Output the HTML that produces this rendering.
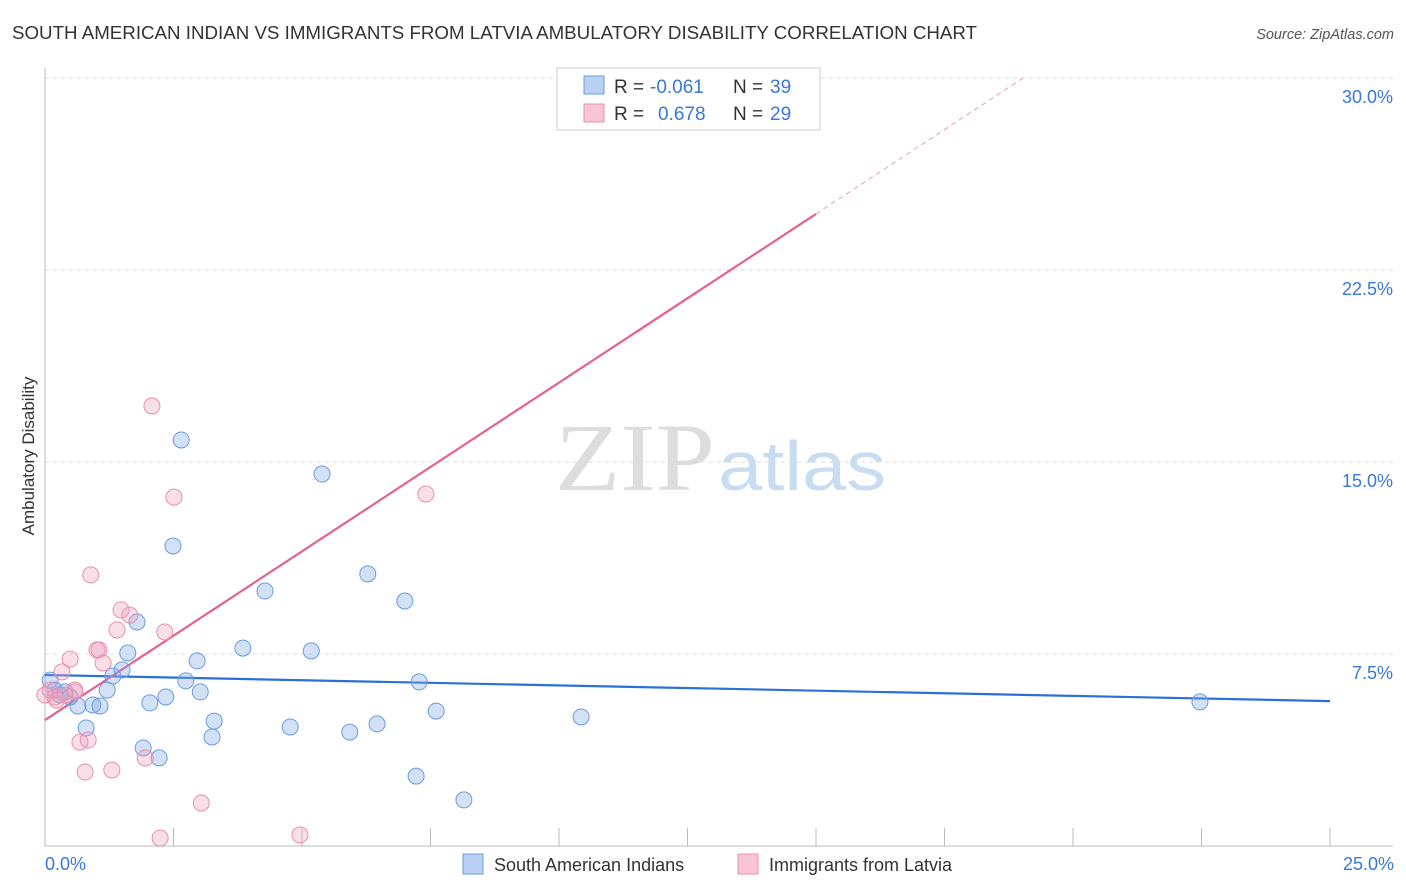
<!DOCTYPE html>
<html><head><meta charset="utf-8"><style>
body{margin:0;background:#fff;font-family:"Liberation Sans",sans-serif;}
svg{display:block}
</style></head><body>
<svg id="chart" width="1406" height="892" viewBox="0 0 1406 892" xmlns="http://www.w3.org/2000/svg">
<text x="12" y="39" font-size="18" fill="#333" textLength="965" lengthAdjust="spacingAndGlyphs">SOUTH AMERICAN INDIAN VS IMMIGRANTS FROM LATVIA AMBULATORY DISABILITY CORRELATION CHART</text>
<text x="1394" y="39" font-size="14.5" fill="#555" font-style="italic" text-anchor="end">Source: ZipAtlas.com</text>
<text x="555" y="490" font-size="96" font-family="Liberation Serif,serif" fill="#ddd" textLength="160" lengthAdjust="spacingAndGlyphs">ZIP</text>
<text x="718" y="490" font-size="70" fill="#c8dcf2" textLength="168" lengthAdjust="spacingAndGlyphs">atlas</text>
<g id="grid"></g>
<g id="axes"></g>
<g id="trend"></g>
<g id="pts"></g>
<text transform="translate(34,456) rotate(-90)" font-size="17" fill="#333" text-anchor="middle">Ambulatory Disability</text>
<text x="45" y="870" font-size="18" fill="#3a78d6">0.0%</text>
<text x="1394" y="870" font-size="18" fill="#3a78d6" text-anchor="end">25.0%</text>
<g font-size="19">
<rect x="557" y="68" width="263" height="62" fill="#fff" stroke="#ccc"/>
<rect x="584" y="76" width="20" height="18" fill="#b8d0f2" stroke="#6a9be0"/>
<rect x="584" y="104" width="20" height="18" fill="#f8c4d6" stroke="#e890b0"/>
<text x="614" y="93" fill="#333">R =</text>
<text x="650" y="93" fill="#3a78d6">-0.061</text>
<text x="733" y="93" fill="#333">N =</text>
<text x="770" y="93" fill="#3a78d6">39</text>
<text x="614" y="120" fill="#333">R =</text>
<text x="658" y="120" fill="#3a78d6">0.678</text>
<text x="733" y="120" fill="#333">N =</text>
<text x="770" y="120" fill="#3a78d6">29</text>
</g>
<g>
<rect x="463" y="854" width="20" height="20" fill="#b8d0f2" stroke="#6a9be0"/>
<text x="494" y="871" font-size="18" fill="#333">South American Indians</text>
<rect x="738" y="854" width="20" height="20" fill="#f8c4d6" stroke="#e890b0"/>
<text x="769" y="871" font-size="18" fill="#333">Immigrants from Latvia</text>
</g>
</svg>
<script>
const yTicks=[7.5,15,22.5,30];
const xTicks=[0,2.5,5,7.5,10,12.5,15,17.5,20,22.5,25];
const blueX=[0.10,0.19,0.29,0.39,0.49,0.64,0.80,0.93,1.07,1.21,1.32,1.50,1.61,1.79,1.91,2.04,2.22,2.35,2.49,2.65,2.74,2.96,3.02,3.29,3.25,3.85,4.28,4.77,5.18,5.39,5.93,6.28,6.46,7.00,7.22,7.28,7.61,8.15,10.43,22.47];
const blueY=[6.48,6.09,5.90,6.02,5.82,5.47,4.61,5.51,5.47,6.09,6.64,6.88,7.54,8.75,3.83,5.59,3.44,5.82,11.72,15.86,6.45,7.23,6.02,4.88,4.26,7.73,9.96,4.65,7.62,14.53,4.45,10.63,4.77,9.57,2.73,6.41,5.27,1.80,5.04,5.63];
const pinkX=[0.10,0.19,0.33,0.49,0.58,0.68,0.78,0.84,0.89,1.01,1.05,1.13,1.30,1.40,1.48,1.65,1.95,2.08,2.24,2.33,2.51,3.04,4.96,7.41,14.36,0.23,0.39,0,0.58];
const pinkY=[6.09,5.82,6.80,7.30,6.02,4.06,2.89,4.14,10.59,7.66,7.66,7.15,2.97,8.44,9.22,9.02,3.44,17.19,0.31,8.36,13.63,1.68,0.43,13.75,28.44,5.70,5.90,5.90,6.09];
const blueTrend=[6.68,5.66];
const pinkTrend=[4.92,1.318];
const X=v=>45+v*51.4, Y=v=>846-v*25.6;
const NS="http://www.w3.org/2000/svg";
function mk(t,a,p){const e=document.createElementNS(NS,t);for(const k in a)e.setAttribute(k,a[k]);p.appendChild(e);return e;}
const g=document.getElementById('grid'),ax=document.getElementById('axes'),tr=document.getElementById('trend'),pts=document.getElementById('pts');
yTicks.forEach(t=>{
 const l=mk('line',{x1:45,x2:1393,y1:Y(t),y2:Y(t),stroke:'#ddd','stroke-dasharray':'4,4'},g);
 
 
 const tx=mk('text',{x:1393,y:Y(t)+25,'font-size':18,fill:'#3a78d6','text-anchor':'end'},g);
 tx.textContent=t.toFixed(1)+'%';
 
 
});
const la=mk('line',{x1:45,x2:45,y1:68,y2:846,stroke:'#bbb'},ax);


const lb=mk('line',{x1:45,x2:1393,y1:846,y2:846,stroke:'#bbb'},ax);


xTicks.forEach(t=>{
 const l=mk('line',{x1:X(t),x2:X(t),y1:828,y2:846,stroke:'#bbb'},ax);
 
 
});
const b=mk('line',{x1:X(0),y1:Y(blueTrend[0]),x2:X(25),y2:Y(blueTrend[1]),stroke:'#2a70d8','stroke-width':2.2},tr);


const pEnd=15,pDash=(30-pinkTrend[0])/pinkTrend[1];
const p1=mk('line',{x1:X(0),y1:Y(pinkTrend[0]),x2:X(pEnd),y2:Y(pinkTrend[0]+pinkTrend[1]*pEnd),stroke:'#e8608e','stroke-width':2.2},tr);


const p2=mk('line',{x1:X(pEnd),y1:Y(pinkTrend[0]+pinkTrend[1]*pEnd),x2:X(pDash),y2:Y(30),stroke:'#e8a0b8','stroke-width':1,'stroke-dasharray':'5,4'},tr);


blueX.forEach((x,i)=>{
 const c=mk('circle',{cx:X(x),cy:Y(blueY[i]),r:8,fill:'rgba(130,170,230,0.35)',stroke:'#6a9be0','stroke-width':1},pts);
 
 
});
pinkX.forEach((x,i)=>{
 const c=mk('circle',{cx:X(x),cy:Y(pinkY[i]),r:8,fill:'rgba(240,160,190,0.35)',stroke:'#e890b0','stroke-width':1},pts);
 
 
});
</script>
</body></html>
